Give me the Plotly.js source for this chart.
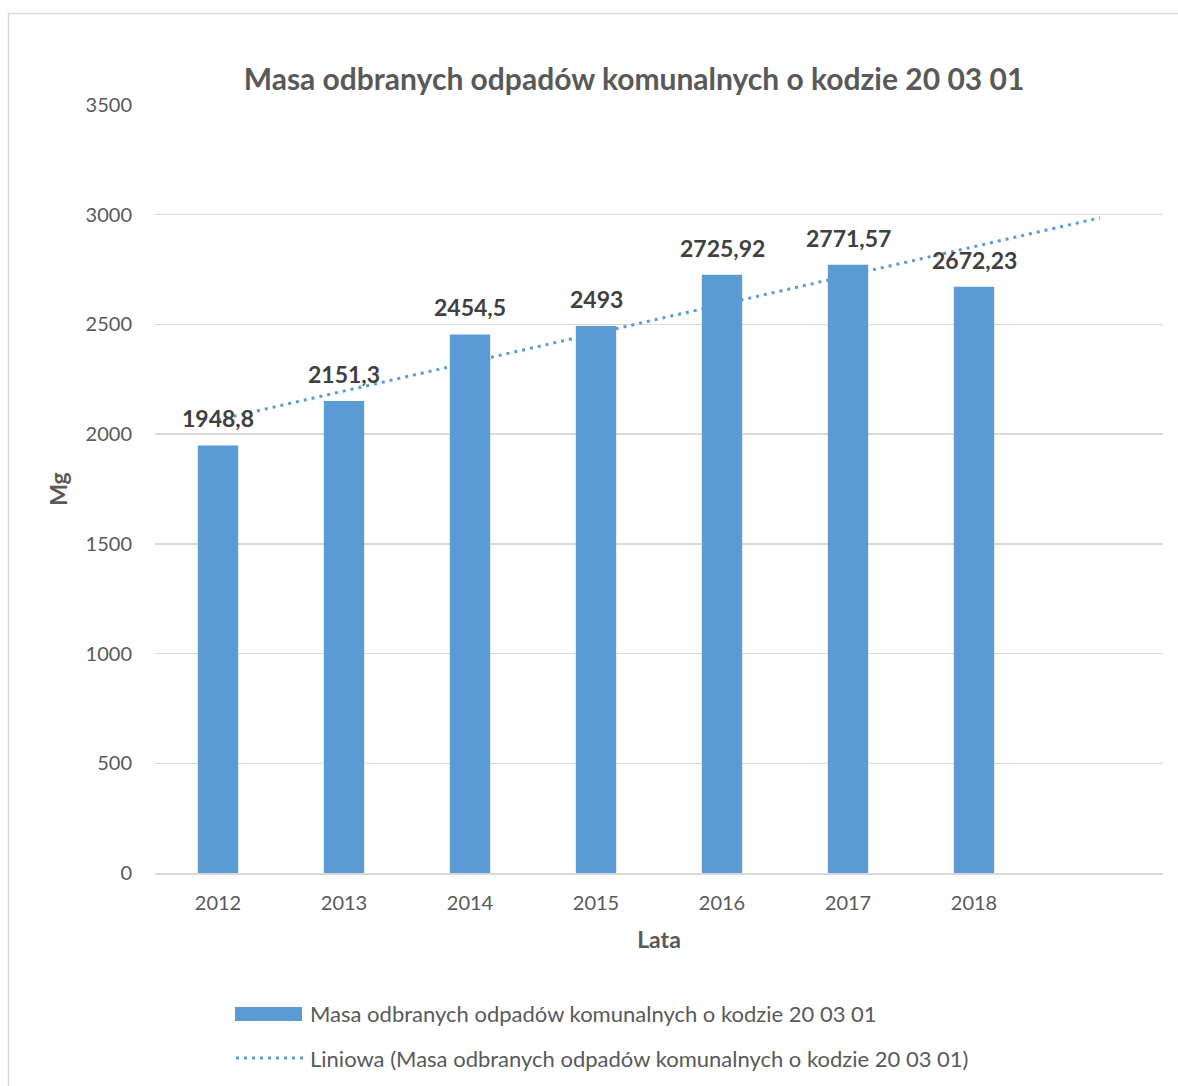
<!DOCTYPE html>
<html>
<head>
<meta charset="utf-8">
<script src="https://cdn.plot.ly/plotly-3.0.1.min.js"></script>
<style>html,body{margin:0;padding:0;background:#fff;}#chart{width:1178px;height:1086px;}</style>
</head>
<body>
<div id="chart"></div>
<script>
// ---- data ----
const years = ['2012', '2013', '2014', '2015', '2016', '2017', '2018'];
const masses = [1948.8, 2151.3, 2454.5, 2493, 2725.92, 2771.57, 2672.23];
// linear trendline (Excel "Liniowa"): start at 2012, end one period past 2018
const trendX = [1, 8];
const trendY = [2065, 2986];
const yTicks = [0, 500, 1000, 1500, 2000, 2500, 3000, 3500];

const titleText = 'Masa odbranych odpadów komunalnych o kodzie 20 03 01';
const seriesName = 'Masa odbranych odpadów komunalnych o kodzie 20 03 01';
const trendName = 'Liniowa (Masa odbranych odpadów komunalnych o kodzie 20 03 01)';

const FONT = 'Lato, "Open Sans", sans-serif';
const BLUE = '#5b9bd5';
const GRID = '#d9d9d9';
const TXT = '#595959';

// plot area in pixels (for paper conversions)
const L = 155, R = 15, T = 105, B = 213, W = 1178, H = 1086;
const pw = W - L - R, ph = H - T - B;
const px = x => (x - L) / pw;
const py = y => (H - B - y) / ph;

const xIdx = years.map((_, i) => i + 1);

const bars = {
  type: 'bar', x: xIdx, y: masses, name: seriesName,
  marker: { color: BLUE }, width: 0.32, showlegend: false, hoverinfo: 'x+y'
};
const trend = {
  type: 'scatter', mode: 'lines', x: trendX, y: trendY, name: trendName,
  line: { color: BLUE, width: 3, dash: '3px,5px' }, showlegend: false
};

const labels = masses.map((v, i) => ({
  x: xIdx[i], y: v, xref: 'x', yref: 'y', text: '<b>' + String(v).replace('.', ',') + '</b>',
  showarrow: false, yanchor: 'bottom', yshift: 11,
  font: { family: FONT, size: 23, color: '#404040' }
}));

const legendAnn = [
  { x: px(308), y: py(1013), xref: 'paper', yref: 'paper', xanchor: 'left', yanchor: 'middle',
    text: seriesName, showarrow: false, font: { family: FONT, size: 22, color: TXT } },
  { x: px(308), y: py(1058), xref: 'paper', yref: 'paper', xanchor: 'left', yanchor: 'middle',
    text: trendName, showarrow: false, font: { family: FONT, size: 22, color: TXT } }
];

const shapes = [
  { type: 'rect', xref: 'paper', yref: 'paper', x0: px(8.5), x1: px(1190), y0: py(13.5), y1: py(1100),
    line: { color: GRID, width: 1.5 }, fillcolor: 'rgba(0,0,0,0)', layer: 'below' },
  { type: 'rect', xref: 'paper', yref: 'paper', x0: px(235), x1: px(302), y0: py(1021), y1: py(1007),
    line: { width: 0 }, fillcolor: BLUE },
  { type: 'line', xref: 'paper', yref: 'paper', x0: px(236), x1: px(303), y0: py(1058), y1: py(1058),
    line: { color: BLUE, width: 3, dash: '3px,5px' } }
];

const layout = {
  width: W, height: H,
  margin: { l: L, r: R, t: T, b: B },
  paper_bgcolor: '#ffffff', plot_bgcolor: '#ffffff',
  font: { family: FONT, color: TXT },
  title: {
    text: '<b>' + titleText + '</b>', xref: 'container', x: 634 / W, xanchor: 'center',
    yref: 'container', y: 1 - 79 / H, yanchor: 'middle',
    font: { family: FONT, size: 30, color: TXT }
  },
  xaxis: {
    type: 'linear', range: [0.5, 8.5], tickvals: xIdx, ticktext: years,
    showgrid: false, zeroline: false, showline: true, linecolor: GRID, linewidth: 1.5,
    ticks: '', tickfont: { family: FONT, size: 20, color: TXT }, ticklabelstandoff: 11,
    title: { text: '<b>Lata</b>', font: { family: FONT, size: 23, color: TXT }, standoff: 19 },
    fixedrange: true
  },
  yaxis: {
    range: [0, 3500], tickvals: yTicks, showgrid: true, gridcolor: GRID, gridwidth: 1.5,
    zeroline: false, showline: false, ticks: '',
    tickfont: { family: FONT, size: 20, color: TXT }, ticklabelstandoff: 22,
    title: { text: '<b>Mg</b>', font: { family: FONT, size: 23, color: TXT }, standoff: 11 },
    fixedrange: true
  },
  showlegend: false,
  annotations: labels.concat(legendAnn),
  shapes: shapes,
  bargap: 0.68
};

Plotly.newPlot('chart', [bars, trend], layout, { displayModeBar: false, staticPlot: true });
</script>
</body>
</html>
